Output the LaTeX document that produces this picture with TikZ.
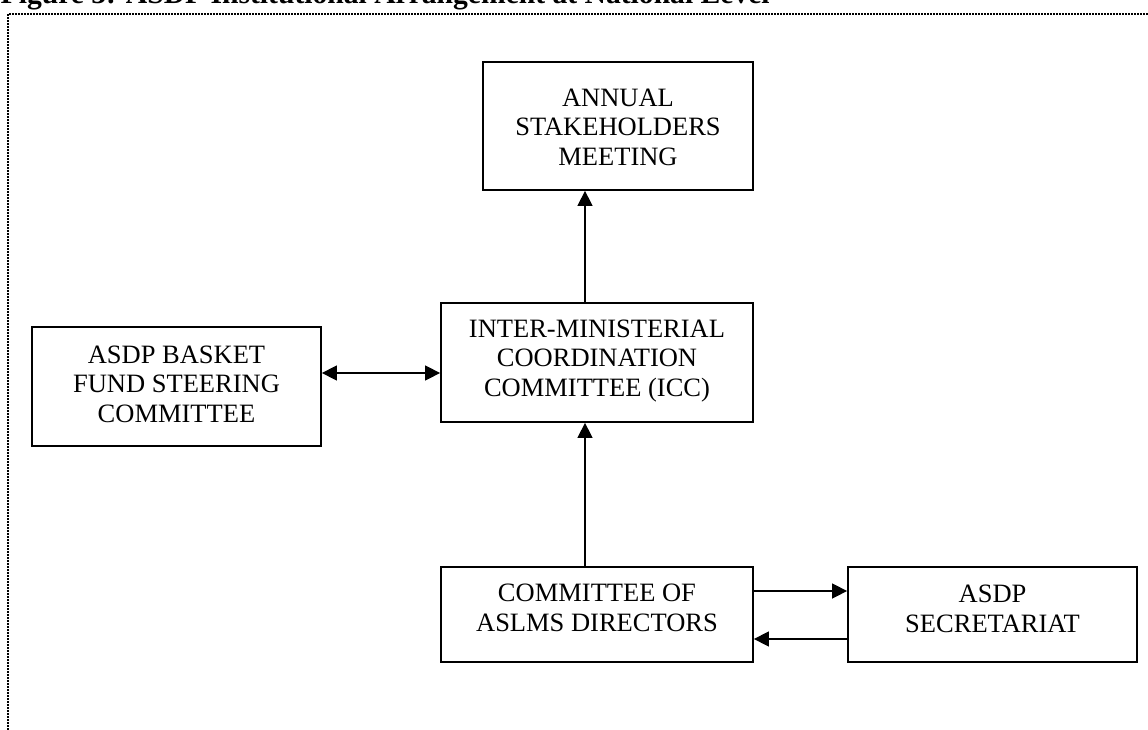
\documentclass[tikz,border=0pt]{standalone}
\usepackage{fontspec}
\setmainfont{Liberation Serif}
\usetikzlibrary{arrows.meta}
\begin{document}
\begin{tikzpicture}[x=1pt,y=-1pt,
  boxshape/.style={draw=black, line width=1.8pt, rectangle, inner sep=0pt},
  boxtext/.style={align=center, inner sep=0pt, font=\fontsize{26.5}{29.5}\selectfont},
  arr/.style={line width=1.5pt, -{Triangle[length=15pt,width=15pt]}},
  darr/.style={line width=1.5pt, {Triangle[length=15pt,width=15pt]}-{Triangle[length=15pt,width=15pt]}},
  frame/.style={line width=1.7pt, dash pattern=on 1.6pt off 1.4pt}]
\useasboundingbox (0,0) rectangle (1148,730);
% title
\node[anchor=base west, inner sep=0pt, font=\fontsize{29.6}{32}\selectfont\bfseries] (title) at (0.5,4)
  {Figure 3: ASDP Institutional Arrangement at National Level};
% dotted frame
\draw[frame] (8,730) -- (8,14) -- (1148,14);
% boxes
\node[boxshape, minimum width=270, minimum height=128] (annual) at (618,126) {};
\node[boxtext] (annualt) at (618,127) {ANNUAL\\STAKEHOLDERS\\MEETING};
\node[boxshape, minimum width=312, minimum height=119] (icc) at (597,362.5) {};
\node[boxtext] (icct) at (597,361) {INTER-MINISTERIAL\\COORDINATION\\COMMITTEE (ICC)};
\node[boxshape, minimum width=289, minimum height=119] (basket) at (176.5,386.5) {};
\node[boxtext] (baskett) at (176.5,384) {ASDP BASKET\\FUND STEERING\\COMMITTEE};
\node[boxshape, minimum width=312, minimum height=95] (comm) at (597,614.5) {};
\node[boxtext] (commt) at (597,608) {COMMITTEE OF\\ASLMS DIRECTORS};
\node[boxshape, minimum width=289, minimum height=95] (sec) at (992.5,614.5) {};
\node[boxtext] (sect) at (992.5,609) {ASDP\\SECRETARIAT};
% helper coordinates
\coordinate (vx) at (585,0);
\coordinate (h1) at (0,373);
\coordinate (h2) at (0,591);
\coordinate (h3) at (0,639);
% connectors
\draw[arr] (icc.north -| vx) -- (annual.south -| vx);
\draw[arr] (comm.north -| vx) -- (icc.south -| vx);
\draw[darr] (basket.east |- h1) -- (icc.west |- h1);
\draw[arr] (comm.east |- h2) -- (sec.west |- h2);
\draw[arr] (sec.west |- h3) -- (comm.east |- h3);
\end{tikzpicture}
\end{document}
